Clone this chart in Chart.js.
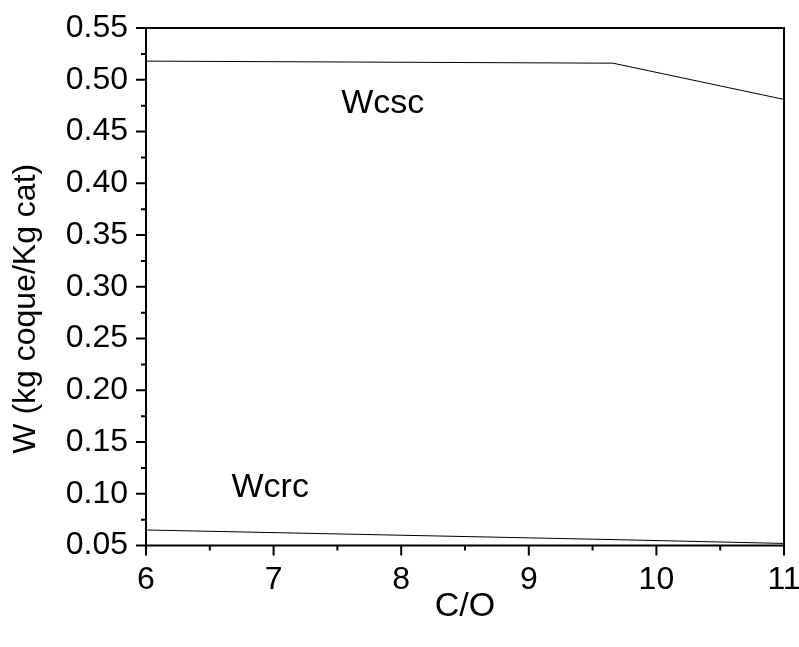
<!DOCTYPE html>
<html>
<head>
<meta charset="utf-8">
<script src="https://cdn.jsdelivr.net/npm/chart.js@4/dist/chart.umd.min.js"></script>
<style>
  html, body { margin: 0; padding: 0; background: #fff; }
  #wrap { width: 799px; height: 647px; }
</style>
</head>
<body>
<div id="wrap"><canvas id="c" width="799" height="647"></canvas></div>
<script>
// ---- data ----
const wcscX = [6, 9.66, 11];
const wcscY = [0.518, 0.516, 0.481];
const wcrcX = [6, 9.66, 11];
const wcrcY = [0.065, 0.0557, 0.052];
const xTitle = 'C/O';
const yTitle = 'W (kg coque/Kg cat)';
const labelTexts = ['Wcsc', 'Wcrc'];
const labelX = [7.53, 6.67];
const labelY = [0.468, 0.097];

const FONT = "'Liberation Sans', Arial, Helvetica, sans-serif";

const frame = {
  id: 'frame',
  afterDraw(chart) {
    const ctx = chart.ctx;
    const a = chart.chartArea;
    const xs = chart.scales.x, ys = chart.scales.y;
    ctx.save();
    ctx.strokeStyle = '#000';
    ctx.lineWidth = 2;
    ctx.beginPath();
    ctx.rect(a.left, a.top, a.right - a.left, a.bottom - a.top);
    ctx.stroke();
    // major ticks
    ctx.beginPath();
    xs.ticks.forEach(t => {
      const p = xs.getPixelForValue(t.value);
      ctx.moveTo(p, a.bottom); ctx.lineTo(p, a.bottom + 10);
    });
    ys.ticks.forEach(t => {
      const p = ys.getPixelForValue(t.value);
      ctx.moveTo(a.left, p); ctx.lineTo(a.left - 10, p);
    });
    // minor ticks (midpoints)
    for (let i = 0; i < xs.ticks.length - 1; i++) {
      const v = (xs.ticks[i].value + xs.ticks[i + 1].value) / 2;
      const p = xs.getPixelForValue(v);
      ctx.moveTo(p, a.bottom); ctx.lineTo(p, a.bottom + 5);
    }
    for (let i = 0; i < ys.ticks.length - 1; i++) {
      const v = (ys.ticks[i].value + ys.ticks[i + 1].value) / 2;
      const p = ys.getPixelForValue(v);
      ctx.moveTo(a.left, p); ctx.lineTo(a.left - 5, p);
    }
    ctx.stroke();
    ctx.fillStyle = '#000';
    // y axis title
    ctx.save();
    ctx.font = '32px ' + FONT;
    ctx.textAlign = 'center';
    ctx.textBaseline = 'middle';
    ctx.translate(26, (a.top + a.bottom) / 2 + 22);
    ctx.rotate(-Math.PI / 2);
    ctx.fillText(yTitle, 0, 0);
    ctx.restore();
    // in-plot labels
    ctx.font = '34px ' + FONT;
    ctx.textAlign = 'left';
    ctx.textBaseline = 'alphabetic';
    labelTexts.forEach((s, i) => {
      ctx.fillText(s, xs.getPixelForValue(labelX[i]), ys.getPixelForValue(labelY[i]));
    });
    ctx.restore();
  }
};

new Chart(document.getElementById('c'), {
  type: 'line',
  data: {
    datasets: [
      { label: 'Wcsc', data: wcscX.map((x, i) => ({x, y: wcscY[i]})) },
      { label: 'Wcrc', data: wcrcX.map((x, i) => ({x, y: wcrcY[i]})) }
    ].map(d => Object.assign(d, {
      borderColor: '#000', borderWidth: 1, pointRadius: 0, tension: 0, fill: false
    }))
  },
  options: {
    responsive: false,
    animation: false,
    devicePixelRatio: 1,
    layout: { padding: { left: 0, top: 28, right: 15, bottom: 0 } },
    plugins: { legend: { display: false }, tooltip: { enabled: false } },
    scales: {
      x: {
        type: 'linear', min: 6, max: 11,
        grid: { display: false, drawTicks: false },
        border: { display: false },
        ticks: { stepSize: 1, color: '#000', padding: 15, maxRotation: 0,
                 font: { family: FONT, size: 32 } },
        title: { display: true, text: xTitle, color: '#000', padding: {top: 0, bottom: 20},
                 font: { family: FONT, size: 34 } },
        afterFit(s) { s.height = 647 - 545.5; s.paddingLeft = 0; s.paddingRight = 0; }
      },
      y: {
        type: 'linear', min: 0.05, max: 0.55,
        grid: { display: false, drawTicks: false },
        border: { display: false },
        ticks: { stepSize: 0.05, color: '#000', padding: 18,
                 font: { family: FONT, size: 32 },
                 callback: v => v.toFixed(2) },
        title: { display: false },
        afterFit(s) { s.width = 146; s.paddingTop = 0; s.paddingBottom = 0; }
      }
    }
  },
  plugins: [frame]
});
</script>
</body>
</html>
